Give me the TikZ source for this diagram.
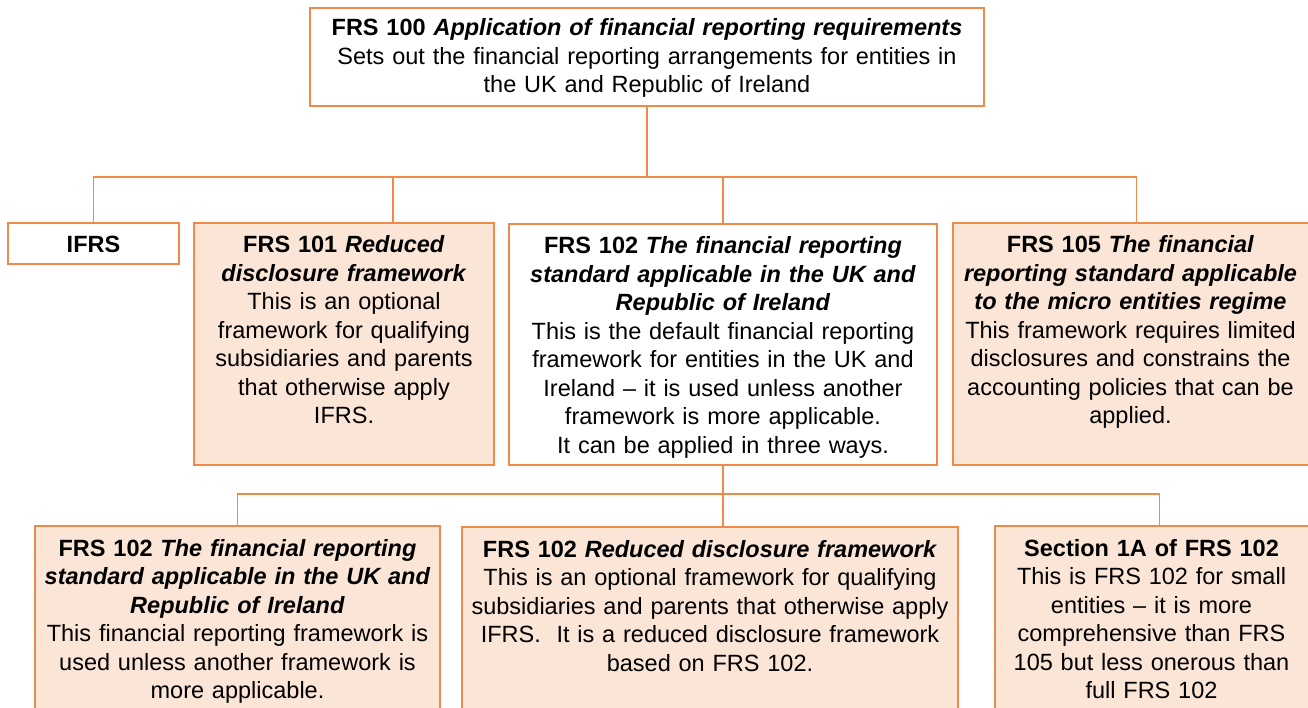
\documentclass[tikz,border=0pt]{standalone}
\usepackage{fontspec}
\setmainfont{Liberation Sans}
\definecolor{bord}{HTML}{F08A4B}
\definecolor{peach}{HTML}{FBE5D6}
\tikzset{
  box/.style={draw=bord, line width=1.4pt, anchor=north west, inner sep=0pt, outer sep=0pt},
  txt/.style={anchor=base, align=center, text width=#1, inner sep=0pt, font=\fontsize{23.5}{28.5}\selectfont},
  conn/.style={draw=bord, line width=1.1pt}
}
\begin{document}
\begin{tikzpicture}[x=1pt,y=1pt]
\clip (0,0) rectangle (1308,-708);
% boxes
\node[box, fill=white, minimum width=674pt, minimum height=98pt] (top) at (310,-8) {};
\node[box, fill=white, minimum width=171pt, minimum height=41pt] (ifrs) at (8,-223) {};
\node[box, fill=peach, minimum width=300pt, minimum height=242pt] (f101) at (194,-223) {};
\node[box, fill=white, minimum width=428pt, minimum height=241pt] (f102) at (509,-224) {};
\node[box, fill=peach, minimum width=359pt, minimum height=242pt] (f105) at (953,-223) {};
\node[box, fill=peach, minimum width=405pt, minimum height=200pt] (b1) at (35,-526) {};
\node[box, fill=peach, minimum width=496pt, minimum height=200pt] (b2) at (462,-527) {};
\node[box, fill=peach, minimum width=323pt, minimum height=200pt] (b3) at (995,-526) {};
% texts
\node[txt=700pt] (ttop) at ([yshift=-28pt]top.north) {\textbf{FRS 100 \textit{Application of financial reporting requirements}}\\
Sets out the financial reporting arrangements for entities in\\
the UK and Republic of Ireland};
\node[txt=200pt] (tifrs) at ([yshift=-30pt]ifrs.north) {\textbf{IFRS}};
\node[txt=340pt] (t101) at ([yshift=-30pt]f101.north) {\textbf{FRS 101 \textit{Reduced}}\\
\textbf{\textit{disclosure framework}}\\
This is an optional\\
framework for qualifying\\
subsidiaries and parents\\
that otherwise apply\\
IFRS.};
\node[txt=460pt] (t102) at ([yshift=-30pt]f102.north) {\textbf{FRS 102 \textit{The financial reporting}}\\
\textbf{\textit{standard applicable in the UK and}}\\
\textbf{\textit{Republic of Ireland}}\\
This is the default financial reporting\\
framework for entities in the UK and\\
Ireland – it is used unless another\\
framework is more applicable.\\
It can be applied in three ways.};
\node[txt=400pt] (t105) at ([yshift=-30pt,xshift=-2pt]f105.north) {\textbf{FRS 105 \textit{The financial}}\\
\textbf{\textit{reporting standard applicable}}\\
\textbf{\textit{to the micro entities regime}}\\
This framework requires limited\\
disclosures and constrains the\\
accounting policies that can be\\
applied.};
\node[txt=440pt] (tb1) at ([yshift=-30pt]b1.north) {\textbf{FRS 102 \textit{The financial reporting}}\\
\textbf{\textit{standard applicable in the UK and}}\\
\textbf{\textit{Republic of Ireland}}\\
This financial reporting framework is\\
used unless another framework is\\
more applicable.};
\node[txt=540pt] (tb2) at ([yshift=-30pt]b2.north) {\textbf{FRS 102 \textit{Reduced disclosure framework}}\\
This is an optional framework for qualifying\\
subsidiaries and parents that otherwise apply\\
IFRS.\ \ It is a reduced disclosure framework\\
based on FRS 102.};
\node[txt=360pt] (tb3) at ([yshift=-30pt,xshift=-5pt]b3.north) {\textbf{Section 1A of FRS 102}\\
This is FRS 102 for small\\
entities – it is more\\
comprehensive than FRS\\
105 but less onerous than\\
full FRS 102};
% connectors
\coordinate (bus1) at (top.south |- 0,-177);
\coordinate (d101) at ([xshift=49pt]f101.north);
\coordinate (d105) at ([xshift=4pt]f105.north);
\draw[conn] (top.south) -- (bus1);
\draw[conn] (ifrs.north) |- (d105 |- bus1) -- (d105);
\draw[conn] (d101) -- (d101 |- bus1);
\draw[conn] (f102.north) -- (f102.north |- bus1);
\coordinate (bus2) at (f102.south |- 0,-494);
\coordinate (db2) at (f102.south |- b2.north);
\coordinate (db3) at ([xshift=3pt]b3.north);
\draw[conn] (f102.south) -- (db2);
\draw[conn] (b1.north) |- (db3 |- bus2) -- (db3);
\end{tikzpicture}
\end{document}
